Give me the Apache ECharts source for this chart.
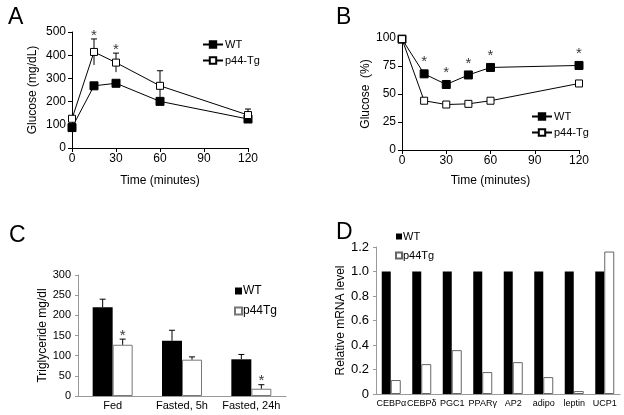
<!DOCTYPE html>
<html>
<head>
<meta charset="utf-8">
<script src="https://cdn.jsdelivr.net/npm/echarts@6/dist/echarts.min.js"></script>
<style>
  html, body { margin: 0; padding: 0; background: #fff; }
  #main { width: 624px; height: 415px; }
</style>
</head>
<body>
<div id="main"></div>
<script>
// Panel A - glucose tolerance
var timeA = [0, 15, 30, 60, 120];
var wtA = [88, 268, 279, 201, 125];
var p44A = [126, 414, 368, 268, 142];
var p44ErrA = [0, 56, 41, 65, 26];
var starA = [15, 30];

// Panel B - insulin tolerance (% of baseline)
var timeB = [0, 15, 30, 45, 60, 120];
var wtB = [99, 68, 58.5, 67, 73.7, 75.5];
var p44B = [99, 44, 40.6, 41.2, 44, 59.4];
var starB = [15, 30, 45, 60, 120];

// Panel C - triglyceride
var catsC = ['Fed', 'Fasted, 5h', 'Fasted, 24h'];
var wtC = [220, 137, 91];
var wtErrC = [20, 26, 12];
var p44C = [127, 90, 18];
var p44ErrC = [14, 7, 10];
var starC = [0, 2];

// Panel D - relative mRNA
var catsD = ['CEBPα', 'CEBPδ', 'PGC1', 'PPARγ', 'AP2', 'adipo', 'leptin', 'UCP1'];
var wtD = [1, 1, 1, 1, 1, 1, 1, 1];
var p44D = [0.114, 0.244, 0.358, 0.179, 0.26, 0.138, 0.024, 1.163];

var FONT = 'Liberation Sans, Arial, sans-serif';

// error bars: value [x, lo, hi], dx shifts it onto a bar
function errBars(dx, lowCap) {
  return function (params, api) {
    var x = api.value(0), lo = api.value(1), hi = api.value(2);
    var a = api.coord([x, hi]);
    var b = api.coord([x, lo]);
    var ax = a[0] + dx;
    var st = { stroke: '#000', lineWidth: 1 };
    var kids = [
      { type: 'line', shape: { x1: ax, y1: a[1], x2: ax, y2: b[1] }, style: st },
      { type: 'line', shape: { x1: ax - 3, y1: a[1], x2: ax + 3, y2: a[1] }, style: st }
    ];
    if (lowCap) kids.push({ type: 'line', shape: { x1: ax - 3, y1: b[1], x2: ax + 3, y2: b[1] }, style: st });
    return { type: 'group', children: kids };
  };
}

var errDataA = [];
timeA.forEach(function (t, i) {
  if (p44ErrA[i] > 0) errDataA.push([t, p44A[i] - p44ErrA[i], p44A[i] + p44ErrA[i]]);
});
var starDataA = starA.map(function (t) {
  var i = timeA.indexOf(t);
  return [t, p44A[i] + p44ErrA[i]];
});
var starDataB = starB.map(function (t) {
  return [t, wtB[timeB.indexOf(t)]];
});
var errWtC = catsC.map(function (c, i) { return [i, wtC[i], wtC[i] + wtErrC[i]]; });
var errP44C = catsC.map(function (c, i) { return [i, p44C[i], p44C[i] + p44ErrC[i]]; });
var starDataC = starC.map(function (i) { return [i, p44C[i] + p44ErrC[i]]; });

function pairs(xs, ys) {
  return xs.map(function (x, i) { return [x, ys[i]]; });
}

var blackAxis = { lineStyle: { color: '#000', width: 1 } };
var tickOut = { show: true, length: 4, lineStyle: { color: '#000' } };
var greyAxis = { lineStyle: { color: '#999', width: 1 } };

var option = {
  animation: false,
  textStyle: { fontFamily: FONT },
  title: [
    { text: 'A', left: 3, top: 1, textStyle: { fontSize: 23, fontWeight: 'normal', color: '#000', fontFamily: FONT } },
    { text: 'B', left: 331, top: 1, textStyle: { fontSize: 23, fontWeight: 'normal', color: '#000', fontFamily: FONT } },
    { text: 'C', left: 4, top: 219, textStyle: { fontSize: 23, fontWeight: 'normal', color: '#000', fontFamily: FONT } },
    { text: 'D', left: 331, top: 216, textStyle: { fontSize: 23, fontWeight: 'normal', color: '#000', fontFamily: FONT } }
  ],
  legend: [
    {
      data: ['WT', 'p44-Tg'], left: 197, top: 34, orient: 'vertical',
      itemWidth: 20, itemHeight: 8, itemGap: 5,
      textStyle: { fontSize: 11, color: '#000', fontFamily: FONT, padding: [0, 0, 0, -3] }
    },
    {
      data: ['WT ', 'p44-Tg '], left: 526, top: 106, orient: 'vertical',
      itemWidth: 20, itemHeight: 8, itemGap: 5,
      textStyle: { fontSize: 11, color: '#000', fontFamily: FONT, padding: [0, 0, 0, -3] }
    },
    {
      data: ['WT  ', 'p44Tg  '], left: 229, top: 280, orient: 'vertical',
      icon: 'rect', itemWidth: 7, itemHeight: 7, itemGap: 8,
      textStyle: { fontSize: 12, color: '#000', fontFamily: FONT, padding: [0, 0, 0, -4] }
    },
    {
      data: ['WT   ', 'p44Tg   '], left: 390, top: 226, orient: 'vertical',
      icon: 'rect', itemWidth: 6, itemHeight: 6, itemGap: 8,
      textStyle: { fontSize: 11, color: '#000', fontFamily: FONT, padding: [0, 0, 0, -4] }
    }
  ],
  grid: [
    { left: 72, right: 376, top: 32, bottom: 267 },
    { left: 402, right: 45, top: 38, bottom: 265 },
    { left: 78, right: 338, top: 275, bottom: 19 },
    { left: 376, right: 4, top: 247, bottom: 21 }
  ],
  xAxis: [
    {
      gridIndex: 0, type: 'value', min: 0, max: 120, interval: 30,
      axisLine: blackAxis, axisTick: tickOut, splitLine: { show: false },
      axisLabel: { color: '#000', fontSize: 12, margin: 5 },
      name: 'Time (minutes)', nameLocation: 'middle', nameGap: 27,
      nameTextStyle: { color: '#000', fontSize: 12 }
    },
    {
      gridIndex: 1, type: 'value', min: 0, max: 120, interval: 30,
      axisLine: blackAxis, axisTick: tickOut, splitLine: { show: false },
      axisLabel: { color: '#000', fontSize: 12, margin: 5 },
      name: 'Time (minutes)', nameLocation: 'middle', nameGap: 25,
      nameTextStyle: { color: '#000', fontSize: 12 }
    },
    {
      gridIndex: 2, type: 'category', data: catsC,
      axisLine: greyAxis, axisTick: { show: false }, splitLine: { show: false },
      axisLabel: { color: '#000', fontSize: 11, margin: 4, interval: 0 }
    },
    {
      gridIndex: 3, type: 'category', data: catsD,
      axisLine: greyAxis, axisTick: { show: false }, splitLine: { show: false },
      axisLabel: { color: '#000', fontSize: 9, margin: 5, interval: 0 }
    }
  ],
  yAxis: [
    {
      gridIndex: 0, type: 'value', min: 0, max: 500, interval: 100,
      axisLine: { show: true, lineStyle: { color: '#000', width: 1 } }, axisTick: tickOut, splitLine: { show: false },
      axisLabel: { color: '#000', fontSize: 12, margin: 6 },
      name: 'Glucose (mg/dL)', nameLocation: 'middle', nameGap: 33,
      nameTextStyle: { color: '#000', fontSize: 12 }
    },
    {
      gridIndex: 1, type: 'value', min: 0, max: 100, interval: 25,
      axisLine: { show: true, lineStyle: { color: '#000', width: 1 } }, axisTick: tickOut, splitLine: { show: false },
      axisLabel: { color: '#000', fontSize: 12, margin: 6 },
      name: 'Glucose  (%)', nameLocation: 'middle', nameGap: 26,
      nameTextStyle: { color: '#000', fontSize: 12 }
    },
    {
      gridIndex: 2, type: 'value', min: 0, max: 300, interval: 50,
      axisLine: { show: true, lineStyle: { color: '#999', width: 1 } },
      axisTick: { show: true, length: 3, lineStyle: { color: '#999' } }, splitLine: { show: false },
      axisLabel: { color: '#000', fontSize: 11, margin: 7 },
      name: 'Triglyceride mg/dl', nameLocation: 'middle', nameGap: 27,
      nameTextStyle: { color: '#000', fontSize: 12 }
    },
    {
      gridIndex: 3, type: 'value', min: 0, max: 1.2, interval: 0.2,
      axisLine: { show: true, lineStyle: { color: '#999', width: 1 } },
      axisTick: { show: true, length: 3, lineStyle: { color: '#999' } }, splitLine: { show: false },
      axisLabel: {
        color: '#000', fontSize: 13, margin: 7,
        formatter: function (v) { return v === 0 ? '0' : v.toFixed(1); }
      },
      name: 'Relative mRNA level', nameLocation: 'middle', nameGap: 22,
      nameTextStyle: { color: '#000', fontSize: 12 }
    }
  ],
  series: [
    // A
    {
      type: 'custom', xAxisIndex: 0, yAxisIndex: 0, z: 1,
      renderItem: errBars(0, false), data: errDataA, encode: { x: 0, y: [1, 2] }
    },
    {
      name: 'WT', type: 'line', xAxisIndex: 0, yAxisIndex: 0, data: pairs(timeA, wtA),
      symbol: 'rect', symbolSize: 8, lineStyle: { color: '#000', width: 1 },
      itemStyle: { color: '#000', borderColor: '#000', borderWidth: 1 }
    },
    {
      name: 'p44-Tg', type: 'line', xAxisIndex: 0, yAxisIndex: 0, data: pairs(timeA, p44A),
      symbol: 'rect', symbolSize: 7, lineStyle: { color: '#000', width: 1 },
      itemStyle: { color: '#fff', borderColor: '#000', borderWidth: 1 }
    },
    {
      type: 'scatter', xAxisIndex: 0, yAxisIndex: 0, data: starDataA, symbolSize: 0,
      label: { show: true, position: 'top', distance: -4, formatter: '*', fontSize: 15, color: '#000' }
    },
    // B
    {
      name: 'WT ', type: 'line', xAxisIndex: 1, yAxisIndex: 1, data: pairs(timeB, wtB),
      symbol: 'rect', symbolSize: 8, lineStyle: { color: '#000', width: 1 },
      itemStyle: { color: '#000', borderColor: '#000', borderWidth: 1 }
    },
    {
      name: 'p44-Tg ', type: 'line', xAxisIndex: 1, yAxisIndex: 1, data: pairs(timeB, p44B),
      symbol: 'rect', symbolSize: 7, lineStyle: { color: '#000', width: 1 },
      itemStyle: { color: '#fff', borderColor: '#000', borderWidth: 1 }
    },
    {
      type: 'scatter', xAxisIndex: 1, yAxisIndex: 1, data: starDataB, symbolSize: 0,
      label: { show: true, position: 'top', distance: 4, formatter: '*', fontSize: 15, color: '#000' }
    },
    // C
    {
      name: 'WT  ', type: 'bar', xAxisIndex: 2, yAxisIndex: 2, data: wtC,
      barWidth: 20, barGap: '0%', itemStyle: { color: '#000' }
    },
    {
      name: 'p44Tg  ', type: 'bar', xAxisIndex: 2, yAxisIndex: 2, data: p44C,
      barWidth: 20, barGap: '0%', itemStyle: { color: '#fff', borderColor: '#777', borderWidth: 1 }
    },
    {
      type: 'custom', xAxisIndex: 2, yAxisIndex: 2, z: 3,
      renderItem: errBars(-10, false), data: errWtC, encode: { x: 0, y: [1, 2] }
    },
    {
      type: 'custom', xAxisIndex: 2, yAxisIndex: 2, z: 3,
      renderItem: errBars(10, false), data: errP44C, encode: { x: 0, y: [1, 2] }
    },
    {
      type: 'scatter', xAxisIndex: 2, yAxisIndex: 2, data: starDataC, symbolSize: 0,
      label: { show: true, position: 'top', distance: -4, formatter: '*', fontSize: 15, color: '#000', offset: [10, 0] }
    },
    // D
    {
      name: 'WT   ', type: 'bar', xAxisIndex: 3, yAxisIndex: 3, data: wtD,
      barWidth: 9, barGap: '0%', itemStyle: { color: '#000' }
    },
    {
      name: 'p44Tg   ', type: 'bar', xAxisIndex: 3, yAxisIndex: 3, data: p44D,
      barWidth: 10, barGap: '0%', itemStyle: { color: '#fff', borderColor: '#666', borderWidth: 1 }
    }
  ]
};

var myChart = echarts.init(document.getElementById('main'));
myChart.setOption(option);
</script>
</body>
</html>
